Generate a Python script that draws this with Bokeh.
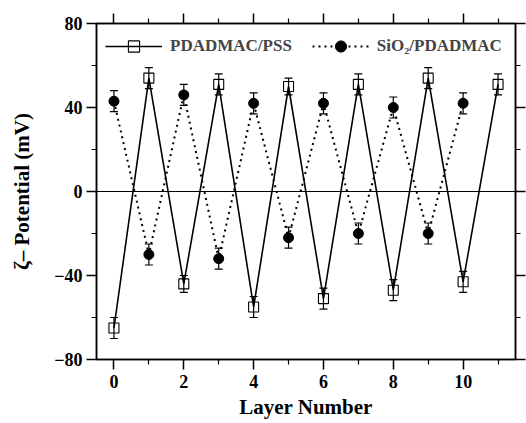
from bokeh.plotting import figure
from bokeh.models import (ColumnDataSource, FixedTicker, LinearAxis, Legend, LegendItem,
                          Span, Whisker, TeeHead, Range1d, CustomJSTickFormatter)
from bokeh.embed import file_html
from bokeh.resources import INLINE

# ---- data ----
layers_pss = [0, 1, 2, 3, 4, 5, 6, 7, 8, 9, 10, 11]
zeta_pss = [-65, 54, -44, 51, -55, 50, -51, 51, -47, 54, -43, 51]
err_pss = [5, 5, 4, 5, 5, 4, 5, 5, 5, 5, 5, 5]

layers_sio2 = [0, 1, 2, 3, 4, 5, 6, 7, 8, 9, 10]
zeta_sio2 = [43, -30, 46, -32, 42, -22, 42, -20, 40, -20, 42]
err_sio2 = [5, 5, 5, 5, 5, 5, 5, 5, 5, 5, 5]

x_major = [0, 2, 4, 6, 8, 10]
x_minor = [1, 3, 5, 7, 9, 11]
y_major = [-80, -40, 0, 40, 80]
y_minor = [-60, -20, 20, 60]

FONT = "Liberation Serif"

src_pss = ColumnDataSource(dict(x=layers_pss, y=zeta_pss,
                                lo=[v - e for v, e in zip(zeta_pss, err_pss)],
                                hi=[v + e for v, e in zip(zeta_pss, err_pss)]))
src_sio = ColumnDataSource(dict(x=layers_sio2, y=zeta_sio2,
                                lo=[v - e for v, e in zip(zeta_sio2, err_sio2)],
                                hi=[v + e for v, e in zip(zeta_sio2, err_sio2)]))

p = figure(frame_width=419, frame_height=336, output_backend="svg", toolbar_location=None,
           x_range=Range1d(-0.5, 11.5), y_range=Range1d(-80, 80),
           min_border_left=96, min_border_right=11, min_border_top=23, min_border_bottom=64,
           x_axis_label="Layer Number", y_axis_label="ζ– Potential (mV)")
p.xgrid.visible = False
p.ygrid.visible = False
p.outline_line_color = "black"
p.outline_line_width = 1.5
p.background_fill_color = "white"
p.border_fill_color = "white"

xt = FixedTicker(ticks=x_major, minor_ticks=x_minor)
yt = FixedTicker(ticks=y_major, minor_ticks=y_minor)

def style_axis(ax):
    ax.axis_line_width = 1.5
    ax.major_tick_line_width = 1.5
    ax.minor_tick_line_width = 1.2
    ax.major_tick_out = 10
    ax.major_tick_in = 0
    ax.minor_tick_out = 5
    ax.minor_tick_in = 0
    ax.major_label_text_font = FONT
    ax.major_label_text_font_style = "bold"
    ax.major_label_text_font_size = "18px"
    ax.major_label_text_color = "black"
    ax.axis_label_text_font = FONT
    ax.axis_label_text_font_style = "bold"
    ax.axis_label_text_font_size = "21px"
    ax.axis_label_text_color = "black"

p.xaxis.ticker = xt
p.yaxis.ticker = yt
style_axis(p.xaxis[0])
style_axis(p.yaxis[0])
p.xaxis[0].major_label_standoff = 5
p.xaxis[0].axis_label_standoff = 4
p.yaxis[0].major_label_standoff = 4
p.yaxis[0].axis_label_standoff = 17

blank = CustomJSTickFormatter(code="return ''")
top = LinearAxis(ticker=FixedTicker(ticks=x_major, minor_ticks=x_minor), formatter=blank)
style_axis(top)
p.add_layout(top, "above")
right = LinearAxis(ticker=FixedTicker(ticks=y_major, minor_ticks=y_minor), formatter=blank)
style_axis(right)
p.add_layout(right, "right")

p.add_layout(Span(location=0, dimension="width", line_color="black", line_width=1.2))

l1 = p.line("x", "y", source=src_pss, line_color="black", line_width=1.6)
l2 = p.line("x", "y", source=src_sio, line_color="black", line_width=2, line_dash="2 4")

for src in (src_pss, src_sio):
    w = Whisker(source=src, base="x", lower="lo", upper="hi", line_color="black", line_width=1.2,
                upper_head=TeeHead(size=8, line_width=1.2, line_color="black"),
                lower_head=TeeHead(size=8, line_width=1.2, line_color="black"))
    p.add_layout(w)

m1 = p.scatter("x", "y", source=src_pss, marker="square", size=10, fill_color=None,
               line_color="black", line_width=1.1)
m2 = p.scatter("x", "y", source=src_sio, marker="circle", size=10, fill_color="black",
               line_color="black")

legend = Legend(items=[LegendItem(label="PDADMAC/PSS", renderers=[l1, m1]),
                       LegendItem(label="SiO₂/PDADMAC", renderers=[l2, m2])],
                location="top_left", orientation="horizontal",
                glyph_width=57, glyph_height=28, label_height=28, label_standoff=8,
                spacing=20, padding=0, margin=9,
                label_text_font=FONT, label_text_font_style="bold", label_text_font_size="17px",
                border_line_color=None, background_fill_alpha=0)
p.add_layout(legend, "center")

open("out.html", "w").write(file_html(p, INLINE))
